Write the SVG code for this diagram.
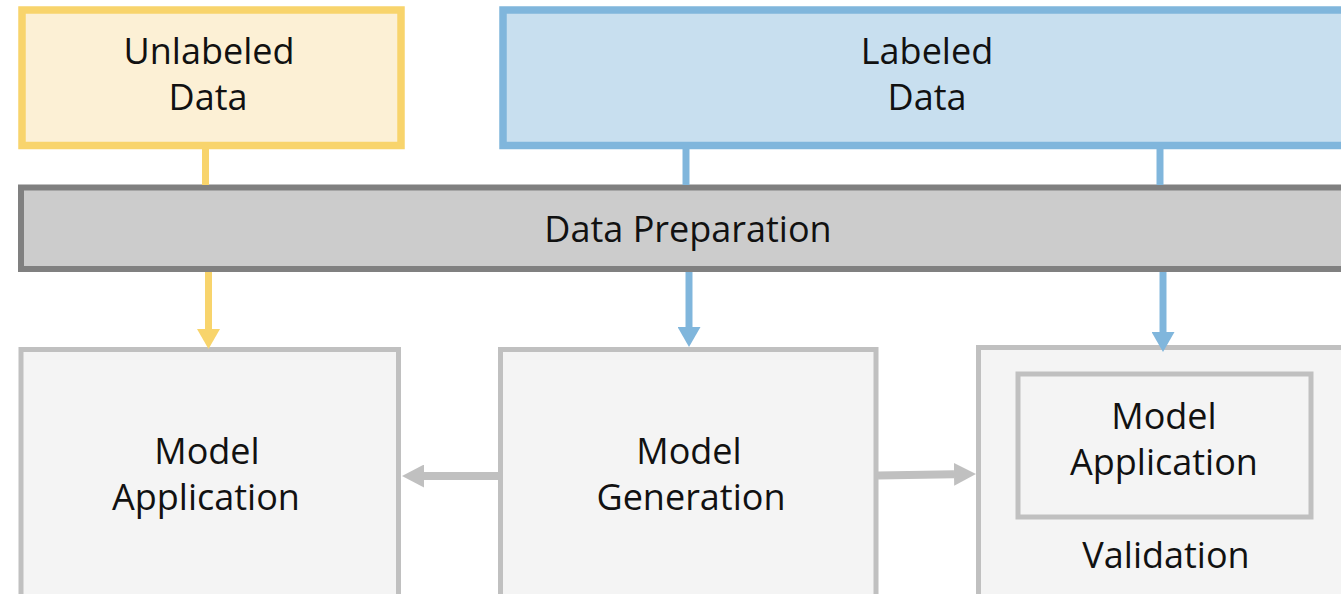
<svg xmlns="http://www.w3.org/2000/svg" width="1341" height="594" viewBox="0 0 1341 594">
  <defs>
    <style>
      .t { font-family: "Open Sans", "Noto Sans", "Liberation Sans", sans-serif; font-size: 36px; fill: #111111; text-anchor: middle; }
      .box { fill: #F4F4F4; stroke: #C0C0C0; stroke-width: 5; }
      .yl { stroke: #F8D46C; stroke-width: 7; fill: none; }
      .bl { stroke: #80B6DC; stroke-width: 7; fill: none; }
      .gl { stroke: #C0C0C0; stroke-width: 8; fill: none; }
    </style>
    <marker id="ahY" markerUnits="userSpaceOnUse" markerWidth="20" markerHeight="23" refX="0" refY="11.5" orient="auto">
      <path d="M0,0 L20,11.5 L0,23 z" fill="#F8D46C"/>
    </marker>
    <marker id="ahB" markerUnits="userSpaceOnUse" markerWidth="20" markerHeight="23" refX="0" refY="11.5" orient="auto">
      <path d="M0,0 L20,11.5 L0,23 z" fill="#80B6DC"/>
    </marker>
    <marker id="ahG" markerUnits="userSpaceOnUse" markerWidth="22" markerHeight="23" refX="0" refY="11.5" orient="auto">
      <path d="M0,0 L22,11.5 L0,23 z" fill="#C0C0C0"/>
    </marker>
  </defs>
  <rect width="1341" height="594" fill="#FFFFFF"/>

  <g id="unlabeled-data">
    <rect x="22" y="10" width="379" height="135.5" fill="#FCF0D5" stroke="#F8D46C" stroke-width="7.5"/>
    <text class="t" x="209" y="64">Unlabeled</text>
    <text class="t" x="208" y="110">Data</text>
  </g>

  <g id="labeled-data">
    <rect x="503" y="10" width="900" height="135.5" fill="#C8DFEF" stroke="#80B6DC" stroke-width="7.5"/>
    <text class="t" x="927" y="64">Labeled</text>
    <text class="t" x="927" y="110">Data</text>
  </g>

  <g id="data-preparation">
    <rect x="21" y="187.5" width="1400" height="81.5" fill="#CCCCCC" stroke="#808080" stroke-width="6"/>
    <text class="t" x="688" y="242">Data Preparation</text>
  </g>

  <g id="model-application">
    <rect class="box" x="21" y="349.5" width="377.5" height="300"/>
    <text class="t" x="207" y="464">Model</text>
    <text class="t" x="206" y="510">Application</text>
  </g>

  <g id="model-generation">
    <rect class="box" x="500.5" y="349.5" width="375.5" height="300"/>
    <text class="t" x="689" y="464">Model</text>
    <text class="t" x="691" y="510">Generation</text>
  </g>

  <g id="validation">
    <rect class="box" x="978.5" y="347.5" width="420" height="300"/>
    <rect class="box" x="1018" y="374" width="293" height="143" stroke-width="5.5"/>
    <text class="t" x="1164" y="428.5">Model</text>
    <text class="t" x="1164" y="474.5">Application</text>
    <text class="t" x="1166" y="568">Validation</text>
  </g>

  <g id="connectors">
    <line class="yl" x1="205.5" y1="149" x2="205.5" y2="185"/>
    <line class="yl" x1="208.5" y1="272" x2="208.5" y2="329" marker-end="url(#ahY)"/>
    <line class="bl" x1="686" y1="149" x2="686" y2="185"/>
    <line class="bl" x1="689" y1="272" x2="689" y2="327" marker-end="url(#ahB)"/>
    <line class="bl" x1="1160" y1="149" x2="1160" y2="185"/>
    <line class="bl" x1="1163" y1="272" x2="1163" y2="332" marker-end="url(#ahB)"/>
    <line class="gl" x1="498" y1="476" x2="424" y2="476" marker-end="url(#ahG)"/>
    <line class="gl" x1="878" y1="475.5" x2="954" y2="474.3" marker-end="url(#ahG)"/>
  </g>
</svg>
